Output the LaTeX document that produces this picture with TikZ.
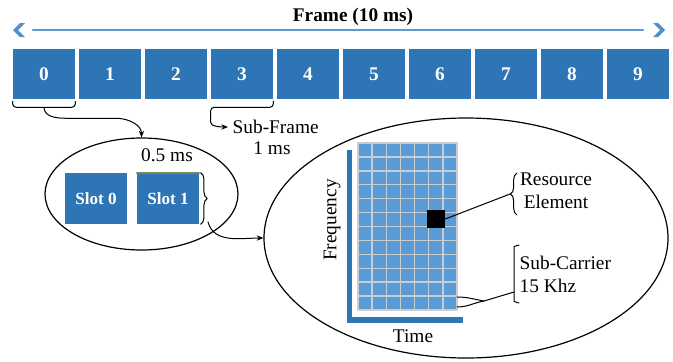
\documentclass[tikz,border=0pt]{standalone}
\usepackage{fontspec}
\setmainfont{Liberation Serif}
\usetikzlibrary{positioning,calc,arrows.meta,shapes.geometric,decorations.pathreplacing}

\definecolor{boxblue}{RGB}{46,117,182}
\definecolor{lineblue}{RGB}{91,155,213}
\definecolor{chevblue}{RGB}{78,143,204}
\definecolor{cellblue}{RGB}{91,155,213}
\definecolor{cellline}{RGB}{200,205,210}
\definecolor{halfline}{RGB}{120,140,80}

\begin{document}
\begin{tikzpicture}[
    x=0.75pt,
    y=-0.75pt,
    line cap=round,
    line join=round,
    every node/.style={
        font=\fontsize{14.5}{17.25}\selectfont
    },
    subframe/.style={
        fill=boxblue,
        text=white,
        inner sep=0pt,
        minimum width=46.5pt,
        minimum height=37.5pt,
        font=\fontsize{14.5}{17}\selectfont\bfseries
    },
    slotbox/.style={
        fill=boxblue,
        text=white,
        inner sep=0pt,
        minimum width=46.5pt,
        minimum height=38.25pt,
        font=\fontsize{12.8}{15}\selectfont\bfseries
    },
    view/.style={
        draw,
        ellipse,
        line width=0.9pt,
        inner sep=0pt
    },
    link/.style={
        line width=0.75pt
    },
    bracket/.style={
        line width=0.75pt,
        rounded corners=2.5pt
    },
    curly/.style={
        line width=0.75pt,
        decorate,
        decoration={brace,amplitude=5pt}
    },
    axisbar/.style={
        fill=boxblue
    }
]

\useasboundingbox (0,0) rectangle (673,361);

% =================================================
% Frame of ten sub-frames
% =================================================

\coordinate (fl) at (13,30);
\coordinate (fr) at (665,30);

\fill[chevblue] (fl) -- ++(7,-7) -- ++(5,0) -- ++(-7,7) -- ++(7,7) -- ++(-5,0) -- cycle;
\fill[chevblue] (fr) -- ++(-7,-7) -- ++(-5,0) -- ++(7,7) -- ++(-7,7) -- ++(5,0) -- cycle;
\draw[lineblue,line width=1.6pt] ($(fl)+(20,0)$) -- ($(fr)+(-22,0)$);

\node[font=\fontsize{14.5}{17}\selectfont\bfseries] (frame) at (353,17) {Frame (10 ms)};

\foreach \i in {0,...,9}
    \node[subframe] (sf\i) at ({44+66*\i},74) {\i};

% =================================================
% Sub-frame 0 opened into its two slots
% =================================================

\coordinate (b0) at ($(sf0.south)+(0,8)$);
\draw[bracket] ($(sf0.south west)+(0,2)$) -- ($(sf0.south west)+(0,8)$)
    -- ($(sf0.south east)+(0,8)$) -- ($(sf0.south east)+(0,2)$);

\node[view,minimum width=144.75pt,minimum height=84pt] (slotview) at (141.5,194) {};

\draw[link,-{Stealth[length=5pt,width=4pt]}] (b0) to[out=-90,in=180] ($(b0)+(22,11)$)
    -- ($(b0)+(72,11)$) to[out=0,in=90] (slotview.north);

\node[slotbox] (slot0) at (96,198.5) {Slot 0};
\node[slotbox] (slot1) at (168,198.5) {Slot 1};
\draw[halfline,line width=1.2pt] (slot1.north west) -- (slot1.north east);
\node (half) at (167,155) {0.5 ms};

\draw[curly] ([xshift=1pt]slot1.north east) -- ([xshift=1pt]slot1.south east);

% =================================================
% Sub-frame 3 label
% =================================================

\node[anchor=west] (sublbl) at (228,127) {Sub-Frame};
\node (subms) at (272,148) {1 ms};

\draw[bracket,-{Stealth[length=5pt,width=4pt]}] ($(sf3.south east)+(0,2)$) -- ($(sf3.south east)+(0,8)$)
    -- ($(sf3.south west)+(0,8)$) -- ($(sf3.south west)+(0,20)$)
    to[out=-90,in=180] (sublbl.west);

% =================================================
% Resource grid of one slot
% =================================================

\node[view,minimum width=303pt,minimum height=180pt] (gridview) at (466,238) {};

\coordinate (s1b) at (208,222);
\draw[link,-{Stealth[length=5pt,width=4pt]}] (s1b) to[out=-75,in=180] (gridview.west);

\fill[cellblue] (358,143) rectangle (457,310);
\foreach \c in {0,...,7}
    \draw[cellline,line width=1.1pt] ({358+99/7*\c},143) -- ({358+99/7*\c},310);
\foreach \r in {0,...,12}
    \draw[cellline,line width=1.1pt] (358,{143+167/12*\r}) -- (457,{143+167/12*\r});

\node[fill=black,inner sep=0pt,minimum size=13.5pt] (re) at (436,219) {};

% Time and frequency axes
\fill[axisbar] (347,150) rectangle (352,323);
\fill[axisbar] (347,317) rectangle (463,323);

\node[rotate=90] (freq) at (332,220) {Frequency};
\node (time) at (413,336) {Time};

% Resource element
\draw[curly] (517,215) -- (517,173);
\coordinate (retip) at (510,194);
\draw[link] (re.east) -- (retip);
\node[align=center] (relbl) at (556,191) {Resource\\Element};

% Sub-carrier spacing
\draw[bracket] (519,245) to[out=180,in=90] (514,250) -- (514,298) to[out=-90,in=180] (519,303);
\coordinate (sc1) at (457,297);
\coordinate (sc2) at (457,307);
\coordinate (scm) at (484,301);
\coordinate (scb) at (514,292);
\draw[link] (sc1) to[out=0,in=170] (scm) -- (scb);
\draw[link] (sc2) to[out=0,in=190] (scm);
\node[align=left,anchor=west] (sclbl) at (515,274) {Sub-Carrier\\15 Khz};

\end{tikzpicture}
\end{document}
